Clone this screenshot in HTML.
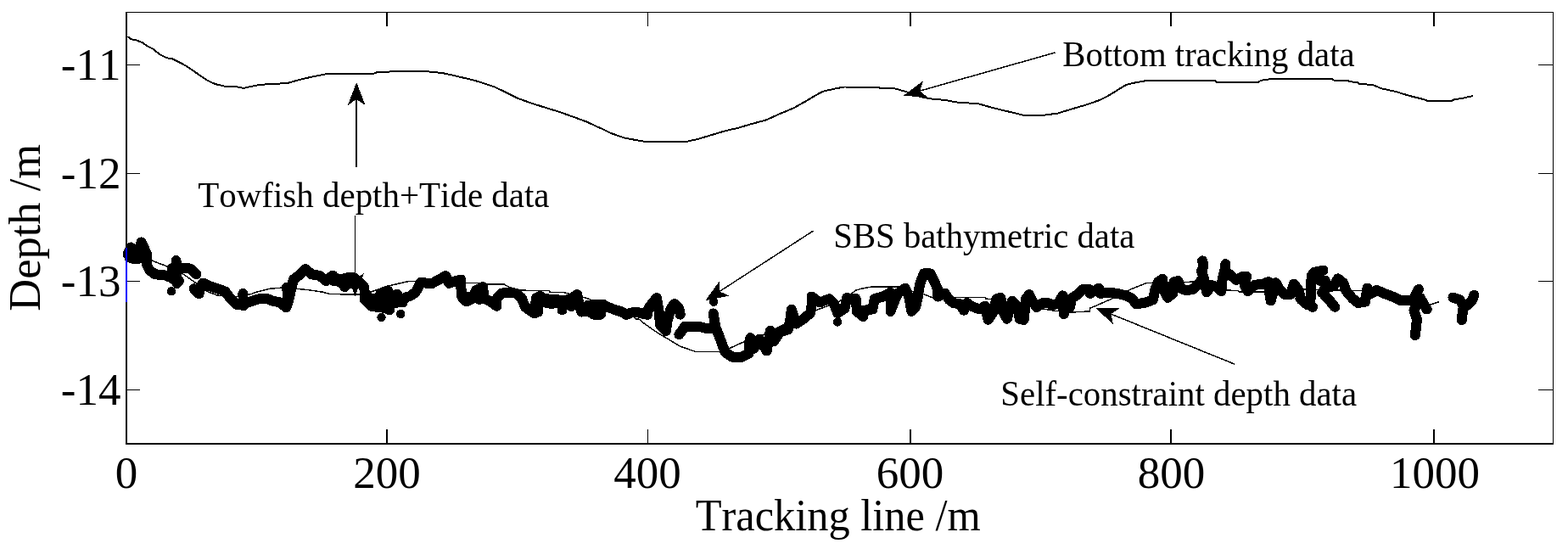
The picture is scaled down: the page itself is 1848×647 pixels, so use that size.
<!DOCTYPE html><html><head><meta charset="utf-8"><title>Depth profile</title><style>html,body{margin:0;padding:0;background:#fff;width:1848px;height:647px;overflow:hidden}svg{display:block}text{font-family:"Liberation Serif","Times New Roman",serif;fill:#000;font-kerning:none}</style></head><body>
<svg width="1848" height="647" viewBox="0 0 1848 647" shape-rendering="crispEdges">
<rect width="1848" height="647" fill="#fff"/>
<polyline points="150.4,43.0 154.5,46.2 161.0,47.5 167.5,50.0 174.0,54.4 180.5,57.9 188.6,64.4 196.7,68.3 203.2,69.4 212.9,74.2 221.0,78.7 229.2,84.4 237.3,90.0 245.4,95.3 253.5,99.0 264.9,101.8 277.9,102.2 287.6,103.9 294.1,102.2 302.2,100.6 316.8,99.0 338.0,98.2 350.9,94.6 359.0,92.5 372.0,89.7 383.4,87.5 407.7,87.1 440.2,86.8 443.5,85.5 461.1,84.4 483.8,83.9 504.9,84.4 521.2,86.0 532.5,88.4 542.3,90.8 556.9,94.1 569.9,98.1 582.9,102.5 594.2,107.9 610.5,116.0 626.7,121.7 642.9,126.9 659.2,131.9 675.4,137.6 691.6,143.6 703.0,149.0 709.7,151.9 719.5,156.8 735.7,162.5 748.7,164.9 758.4,166.6 810.4,166.6 821.8,164.1 838.0,159.3 854.2,154.4 870.5,150.6 886.7,145.8 902.9,141.4 919.2,134.1 935.4,127.3 951.6,118.2 959.7,113.3 969.5,107.8 984.1,104.5 994.9,102.5 1035.5,102.8 1037.1,104.1 1054.9,104.4 1067.9,108.1 1080.9,113.0 1095.5,116.3 1113.4,117.9 1131.2,121.1 1152.3,121.9 1160.5,124.4 1176.7,128.8 1192.9,132.5 1205.9,135.7 1230.3,135.7 1246.5,133.6 1257.9,130.1 1274.1,125.2 1280.0,123.6 1296.2,117.9 1306.0,113.0 1315.7,107.0 1327.1,100.0 1338.4,97.3 1353.0,94.7 1431.0,94.7 1434.2,96.8 1482.9,96.8 1486.2,94.7 1500.8,92.7 1569.0,92.7 1572.2,94.7 1588.6,94.7 1590.2,96.3 1600.0,96.8 1601.6,98.9 1617.8,100.0 1627.5,104.1 1645.4,108.1 1661.6,113.0 1677.9,117.1 1682.7,119.0 1710.3,119.0 1713.6,117.4 1723.3,115.8 1736.3,113.0" fill="none" stroke="#000" stroke-width="2" stroke-linejoin="round"/>
<polyline points="149.0,297.0 165.0,302.0 178.9,307.0 199.0,314.8 217.5,324.0 231.4,334.0 243.8,343.3 256.2,348.0 276.2,350.3 296.3,346.4 302.5,344.1 318.0,340.3 333.4,339.0 348.9,340.3 364.3,341.8 379.8,344.1 389.0,346.4 414.7,347.2 425.0,347.0 439.4,343.3 456.4,337.1 464.2,335.6 473.4,333.3 481.2,331.7 490.4,331.4 520.0,332.5 548.7,333.3 571.4,333.3 573.6,335.1 594.1,335.1 600.6,338.7 612.5,341.9 630.0,342.7 647.3,342.7 648.4,344.7 664.6,344.7 687.3,350.3 694.9,352.5 697.1,354.1 713.3,354.1 720.9,358.9 732.8,361.7 738.2,364.4 749.0,375.7 753.3,376.3 759.8,381.7 773.9,391.5 787.8,399.8 801.7,408.2 819.8,414.5 849.1,414.5 860.2,410.3 874.1,404.0 899.1,394.9 914.5,387.2 950.0,370.0 987.1,356.3 1003.7,345.9 1008.7,342.2 1014.8,340.3 1028.4,337.8 1058.1,337.8 1074.2,343.3 1086.6,345.9 1098.9,350.8 1139.9,350.3 1160.9,350.3 1162.2,352.2 1167.1,352.4 1205.0,360.0 1243.8,366.4 1251.2,366.4 1259.9,368.2 1284.7,366.9 1284.7,363.2 1290.9,360.7 1311.9,351.4 1333.0,340.9 1351.5,333.5 1400.0,332.3 1408.6,332.1 1430.0,337.0 1445.7,342.0 1459.3,342.6 1460.5,343.9 1488.9,343.9 1534.8,341.0 1606.6,342.7 1640.0,350.0 1685.9,359.0 1695.7,355.9" fill="none" stroke="#000" stroke-width="1.5" stroke-linejoin="round"/>
<g fill="none" stroke="#000" stroke-width="12.0" stroke-linecap="round" stroke-linejoin="round">
<polyline points="150.5,300.0 154.2,291.5 152.6,303.5 158.8,305.5 165.0,304.5 163.5,295.5 166.5,285.5 171.0,295.0 173.5,300.0 172.7,306.0 173.0,312.0 176.0,318.0 182.0,323.0 188.0,324.0 195.0,324.5 201.0,327.0 206.0,330.0 211.0,331.0"/>
<polyline points="207.5,307.0 207.5,315.5 208.5,334.0"/>
<polyline points="207.5,315.5 219.1,315.5 225.3,317.1 231.4,323.3"/>
<polyline points="228.5,340.3 234.5,346.4 236.5,338.0 239.2,333.5 246.9,337.2 256.2,340.3 265.4,343.5 271.6,352.0 279.3,359.0 287.1,358.0 296.3,355.0 305.6,352.2 314.9,352.2 322.6,355.0 330.3,356.5 337.3,362.5 339.5,356.0 341.5,348.0 345.8,329.4 352.0,324.8 359.7,317.1 367.4,323.3 376.7,324.8 384.4,331.0 392.1,324.5 393.2,327.0 400.8,329.5 409.5,327.3 417.1,327.3 422.5,331.6 429.0,338.1 430.0,345.7 430.0,353.3 437.6,360.9 446.3,362.0 454.9,363.0 459.3,365.2"/>
<polyline points="286.3,346.0 287.1,360.3"/>
<polyline points="338.0,338.7 340.0,354.0"/>
<polyline points="400.8,329.5 406.2,338.1"/>
<polyline points="448.4,345.7 457.1,342.5 460.3,351.1 467.9,346.8 474.4,356.5 476.6,351.1 483.1,349.0 489.6,344.6 493.9,337.1 496.1,332.7 503.6,333.8 508.7,334.3 517.3,329.5 525.4,325.1 529.2,333.8 535.7,331.6 543.3,329.5 543.3,338.1 544.4,350.0 549.8,355.4 558.4,351.1 560.6,342.5 569.2,338.1 570.3,351.1 577.9,355.4 585.5,360.8 584.4,353.3 590.9,345.7 599.5,344.6 608.2,345.7 614.7,351.1 619.0,361.9 629.8,369.5 632.0,351.1 636.3,349.0 640.8,351.4 646.2,352.5 653.8,352.5 662.5,354.6 672.2,352.5 680.3,347.0 681.9,355.7 685.2,367.6 692.7,366.5 700.3,370.8 707.9,370.8 707.9,360.0 714.4,361.1 723.0,364.4 732.8,367.6 738.2,370.8 743.6,368.7 750.1,367.6 757.7,369.8 763.1,370.8 764.2,363.3 768.3,358.1 773.9,351.1 776.7,367.8 778.1,383.1 785.0,390.1 786.4,379.0 790.6,363.7 794.8,358.1 800.4,363.7 801.7,370.6"/>
<polyline points="430.0,350.0 440.0,352.0 448.0,355.0 455.0,356.0 462.0,358.0 470.0,356.0"/>
<polyline points="549.0,350.0 560.6,349.0 565.0,353.0"/>
<polyline points="634.3,352.5 634.3,367.6"/>
<polyline points="662.5,354.6 662.5,365.4"/>
<polyline points="672.2,352.5 673.3,361.1"/>
<polyline points="692.7,360.0 707.9,360.0"/>
<polyline points="800.4,394.3 807.3,384.5 822.6,384.5 833.8,387.3 843.5,385.9 846.3,392.9 850.5,404.0 854.6,415.1 863.0,420.7 874.1,420.7 882.5,416.5 882.5,406.8 884.2,398.2 888.3,410.7 895.3,399.6 903.7,413.5 907.8,389.8 912.0,402.4 919.0,391.2 928.7,388.4 931.5,375.9 932.9,364.8 938.4,381.5 946.8,375.9 955.1,369.0 956.5,360.6 956.5,349.5 966.3,356.4 977.4,352.3 983.0,357.8 987.2,369.0 995.5,363.4 998.3,350.9 1001.2,352.0 1008.7,352.0 1009.9,366.9 1017.3,373.1 1018.6,365.7 1028.4,364.4 1030.9,352.0 1040.8,349.6 1049.5,344.6 1049.5,354.5 1049.5,366.9 1053.2,357.0 1058.1,345.9 1066.8,339.7 1071.7,350.8 1074.2,366.9 1079.1,361.9 1081.6,350.8 1084.1,334.7 1089.0,322.4 1096.5,322.4 1101.4,332.3 1105.1,340.9 1105.1,349.6 1113.8,345.9 1118.7,353.3 1123.7,357.0 1131.1,358.2 1136.0,365.7 1139.7,357.0 1144.8,360.8 1154.7,364.5 1160.9,360.8 1164.6,376.9 1169.6,369.5 1174.5,352.2 1179.5,350.9 1181.9,367.0 1186.9,375.7 1190.6,360.8 1193.1,354.6 1199.3,360.8 1201.7,375.7 1206.7,376.9 1209.2,352.2 1212.9,347.2 1216.6,354.6 1221.5,362.0 1228.9,357.1 1235.1,357.1 1241.3,359.6 1247.5,357.1 1252.4,348.4 1258.6,357.1 1261.2,361.9 1262.5,352.0 1269.9,347.1 1276.1,340.9 1283.5,340.9 1284.7,345.9 1295.2,339.7 1297.1,345.9 1307.0,344.6 1316.9,345.9 1326.8,348.3 1334.2,352.0 1339.1,358.2 1349.0,357.0 1358.9,353.3 1361.4,341.0 1365.1,332.3 1370.1,328.6 1371.3,341.0 1376.2,350.8 1382.4,345.9 1383.7,332.3 1388.6,331.0 1391.1,339.7 1398.5,342.2 1406.1,340.8 1414.7,332.1 1418.4,325.9 1416.0,319.7 1418.4,313.6 1417.2,307.4 1418.4,313.6 1416.0,319.7 1418.4,325.9 1422.2,344.5 1427.1,335.8 1434.5,338.3 1439.5,343.2 1440.7,328.4 1443.2,319.7 1444.4,311.1 1443.2,319.7 1449.4,323.4 1456.8,329.9 1464.2,325.9 1469.1,325.9 1466.7,335.8 1470.4,343.2 1479.0,335.8 1488.9,334.6 1495.1,332.1 1496.4,347.0 1497.6,354.4 1503.8,333.3 1508.7,342.0 1513.7,346.9 1521.1,346.9 1524.8,334.6 1529.9,340.8 1533.6,353.2 1541.0,359.4 1544.7,351.9 1544.7,337.1 1546.0,324.7 1548.4,321.0"/>
<polyline points="1548.4,321.0 1559.6,318.6"/>
<polyline points="1555.9,330.9 1562.0,330.9 1562.0,339.6 1558.0,345.0"/>
<polyline points="1562.0,349.5 1567.0,354.0 1573.2,361.8"/>
<polyline points="1532.4,352.0 1547.2,361.8"/>
<polyline points="1562.0,339.6 1571.9,337.1 1576.9,328.4 1583.1,333.4 1586.8,343.3 1594.2,351.9 1600.4,356.9 1609.0,355.7 1611.5,339.6 1614.0,347.0 1622.6,342.0 1631.3,345.8 1641.2,349.5 1651.1,354.4 1659.7,354.4 1665.0,354.1 1672.0,340.9"/>
<polyline points="1673.4,350.6 1666.4,365.9 1669.9,375.7 1669.2,384.0 1667.8,395.1"/>
<polyline points="1673.4,350.6 1681.7,364.5"/>
<polyline points="1712.4,350.6 1720.7,353.4 1724.9,361.7 1723.5,370.1 1722.8,377.1"/>
<polyline points="1737.4,347.8 1734.6,354.8 1730.5,359.0 1724.9,361.7"/>
<polyline points="640.8,356.0 650.0,358.0 656.0,357.0"/>
<polyline points="840.7,369.5 843.5,385.9"/>
<polyline points="1252.4,350.0 1253.8,370.0"/>
<polyline points="202.5,316.3 207.5,315.5"/>
<polyline points="392.0,330.5 400.0,332.0 410.0,333.5 420.0,334.0"/>
</g>
<g fill="#000">
<circle cx="202.1" cy="343.3" r="5.25"/>
<circle cx="449.5" cy="373.9" r="5.25"/>
<circle cx="472.3" cy="370" r="5.25"/>
<circle cx="841.2" cy="355.6" r="5.25"/>
<circle cx="987.2" cy="379.4" r="5.25"/>
</g>
<g fill="#000">
<rect x="148" y="14" width="1683" height="1"/>
<rect x="148" y="522" width="1683" height="2"/>
<rect x="148" y="14" width="2" height="510"/>
<rect x="1830" y="14" width="1" height="510"/>
<rect x="150" y="76" width="15" height="1"/>
<rect x="1813" y="76" width="17" height="1"/>
<rect x="150" y="204" width="15" height="1"/>
<rect x="1813" y="204" width="17" height="1"/>
<rect x="150" y="331" width="15" height="1"/>
<rect x="1813" y="331" width="17" height="1"/>
<rect x="150" y="459" width="15" height="1"/>
<rect x="1813" y="459" width="17" height="1"/>
<rect x="455" y="506" width="2" height="16"/>
<rect x="455" y="15" width="2" height="16"/>
<rect x="763" y="506" width="1" height="16"/>
<rect x="763" y="15" width="1" height="16"/>
<rect x="1072" y="506" width="2" height="16"/>
<rect x="1072" y="15" width="2" height="16"/>
<rect x="1379" y="506" width="2" height="16"/>
<rect x="1379" y="15" width="2" height="16"/>
<rect x="1689" y="506" width="2" height="16"/>
<rect x="1689" y="15" width="2" height="16"/>
</g>
<rect x="148" y="292" width="2" height="64" fill="#0000ff"/>
<text x="142.5" y="94" font-size="53" text-anchor="end">-11</text>
<text x="142.5" y="222" font-size="53" text-anchor="end">-12</text>
<text x="142.5" y="349" font-size="53" text-anchor="end">-13</text>
<text x="142.5" y="477" font-size="53" text-anchor="end">-14</text>
<text x="149" y="575" font-size="53" text-anchor="middle">0</text>
<text x="456" y="575" font-size="53" text-anchor="middle">200</text>
<text x="763" y="575" font-size="53" text-anchor="middle">400</text>
<text x="1072.6" y="575" font-size="53" text-anchor="middle">600</text>
<text x="1380.5" y="575" font-size="53" text-anchor="middle">800</text>
<text x="1691" y="575" font-size="53" text-anchor="middle">1000</text>
<text x="987.7" y="625" font-size="53" text-anchor="middle" textLength="336" lengthAdjust="spacingAndGlyphs">Tracking line /m</text>
<text transform="translate(47,268.3) rotate(-90)" x="0" y="0" font-size="53" text-anchor="middle" textLength="197" lengthAdjust="spacingAndGlyphs">Depth /m</text>
<text x="1252.3" y="78.3" font-size="42" textLength="344.3" lengthAdjust="spacingAndGlyphs">Bottom tracking data</text>
<text x="233.3" y="243.5" font-size="42" textLength="414.2" lengthAdjust="spacingAndGlyphs">Towfish depth+Tide data</text>
<text x="982.3" y="292.2" font-size="42" textLength="355" lengthAdjust="spacingAndGlyphs">SBS bathymetric data</text>
<text x="1179.3" y="478.2" font-size="42" textLength="419.8" lengthAdjust="spacingAndGlyphs">Self-constraint depth data</text>
<line x1="1243.4" y1="62.0" x2="1084.2" y2="107.1" stroke="#000" stroke-width="1.5"/><polygon points="1065.0,112.6 1093.8,115.2 1084.2,107.1 1088.1,95.2" fill="#000"/>
<line x1="420.2" y1="196.9" x2="420.2" y2="117.0" stroke="#000" stroke-width="1.5"/><polygon points="420.2,97.0 409.8,124.0 420.2,117.0 430.6,124.0" fill="#000"/>
<line x1="418.6" y1="254.0" x2="418.6" y2="329.0" stroke="#000" stroke-width="1.5"/><polygon points="418.6,349.0 429.0,322.0 418.6,329.0 408.2,322.0" fill="#000"/>
<line x1="958.6" y1="272.0" x2="848.0" y2="343.5" stroke="#000" stroke-width="1.5"/><polygon points="831.2,354.4 859.5,348.5 848.0,343.5 848.2,331.0" fill="#000"/>
<line x1="1455.4" y1="429.3" x2="1309.4" y2="370.1" stroke="#000" stroke-width="1.5"/><polygon points="1290.9,362.6 1312.0,382.4 1309.4,370.1 1319.8,363.1" fill="#000"/>
</svg></body></html>
